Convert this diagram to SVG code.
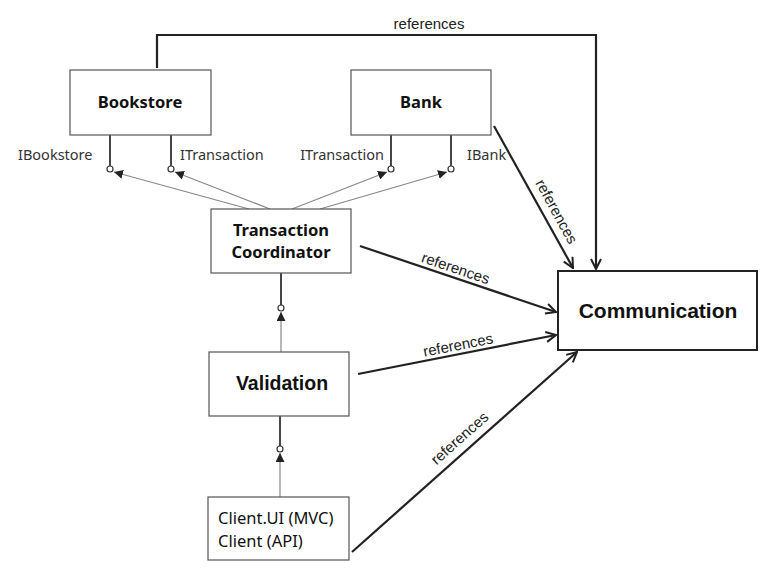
<svg xmlns="http://www.w3.org/2000/svg" width="778" height="588" viewBox="0 0 778 588">
<style>
.box{fill:#fff;stroke:#555;stroke-width:1.2}
.comm{fill:#fff;stroke:#222;stroke-width:2}
.t{font-family:"Noto Sans","Open Sans",sans-serif;fill:#111}
.b{font-weight:bold;font-size:16.5px;text-anchor:middle}
.iface{font-family:"Noto Sans","Open Sans",sans-serif;font-size:14.5px;fill:#333}
.ref{font-family:"Liberation Sans",Arial,sans-serif;font-size:15px;fill:#222;text-anchor:middle}
.dep{stroke:#333;stroke-width:1.8;fill:none}
.use{stroke:#888;stroke-width:1.2;fill:none}
.lol{fill:#fff;stroke:#333;stroke-width:1.2}
.conn{stroke:#222;stroke-width:2.2;fill:none}
</style>
<defs>
<marker id="open" viewBox="0 0 12 12" refX="11" refY="6" markerWidth="12" markerHeight="12" markerUnits="userSpaceOnUse" orient="auto">
<path d="M1,1 L11,6 L1,11" fill="none" stroke="#222" stroke-width="2"/>
</marker>
<marker id="tri" viewBox="0 0 10 10" refX="10" refY="5" markerWidth="9" markerHeight="9" markerUnits="userSpaceOnUse" orient="auto">
<path d="M0,0 L10,5 L0,10 z" fill="#222"/>
</marker>
</defs>
<rect width="778" height="588" fill="#fff"/>

<g id="connectors">
<line class="dep" x1="110" y1="135" x2="110" y2="166"/>
<line class="dep" x1="171" y1="135" x2="171" y2="166"/>
<line class="dep" x1="391" y1="135" x2="391" y2="166"/>
<line class="dep" x1="451" y1="135" x2="451" y2="166"/>
<line class="dep" x1="281" y1="273" x2="281" y2="305"/>
<line class="dep" x1="280" y1="416" x2="280" y2="446"/>
<line class="use" x1="249" y1="209" x2="114" y2="172" marker-end="url(#tri)"/>
<line class="use" x1="270" y1="209" x2="175" y2="172" marker-end="url(#tri)"/>
<line class="use" x1="292" y1="209" x2="387" y2="172" marker-end="url(#tri)"/>
<line class="use" x1="320" y1="209" x2="447" y2="172" marker-end="url(#tri)"/>
<line class="use" x1="281" y1="352" x2="281" y2="312" marker-end="url(#tri)"/>
<line class="use" x1="280" y1="497" x2="280" y2="453" marker-end="url(#tri)"/>
<circle class="lol" cx="110" cy="169" r="3"/>
<circle class="lol" cx="171" cy="169" r="3"/>
<circle class="lol" cx="391" cy="169" r="3"/>
<circle class="lol" cx="451" cy="169" r="3"/>
<circle class="lol" cx="281" cy="308" r="3"/>
<circle class="lol" cx="280" cy="449" r="3"/>
<path class="conn" d="M157,68 L157,35 L596,35 L596,269" marker-end="url(#open)"/>
<line class="conn" x1="494" y1="126" x2="573" y2="268" marker-end="url(#open)"/>
<line class="conn" x1="360" y1="246" x2="556" y2="312" marker-end="url(#open)"/>
<line class="conn" x1="358" y1="374" x2="556" y2="335" marker-end="url(#open)"/>
<line class="conn" x1="352" y1="552" x2="577" y2="352" marker-end="url(#open)"/>
<text class="ref" x="429" y="29">references</text>
<text class="ref" transform="translate(552,214) rotate(61.3)">references</text>
<text class="ref" transform="translate(454,273) rotate(18.7)">references</text>
<text class="ref" transform="translate(459,350) rotate(-11.1)">references</text>
<text class="ref" transform="translate(463,442) rotate(-41.6)">references</text>
<text class="iface" x="18" y="160">IBookstore</text>
<text class="iface" x="180" y="160">ITransaction</text>
<text class="iface" x="384" y="160" text-anchor="end">ITransaction</text>
<text class="iface" x="467" y="160">IBank</text>
</g>

<g id="bookstore">
<rect class="box" x="70" y="70" width="141" height="65"/>
<text class="t b" x="140" y="108">Bookstore</text>
</g>
<g id="bank">
<rect class="box" x="351" y="70" width="140" height="65"/>
<text class="t b" x="421" y="108">Bank</text>
</g>
<g id="transaction-coordinator">
<rect class="box" x="211" y="209" width="140" height="64"/>
<text class="t b" x="281" y="236">Transaction</text>
<text class="t b" x="281" y="258">Coordinator</text>
</g>
<g id="validation">
<rect class="box" x="209" y="352" width="140" height="64"/>
<text class="t" x="282" y="390" text-anchor="middle" style="font-family:'Liberation Sans',Arial,sans-serif;font-weight:bold;font-size:19.5px">Validation</text>
</g>
<g id="client">
<rect class="box" x="208" y="497" width="141" height="63"/>
<text class="t" x="218" y="524" style="font-size:16.5px">Client.UI (MVC)</text>
<text class="t" x="218" y="547" style="font-size:16.5px">Client (API)</text>
</g>
<g id="communication">
<rect class="comm" x="558" y="271" width="199" height="79"/>
<text class="t" x="658" y="318" text-anchor="middle" style="font-family:'Liberation Sans',Arial,sans-serif;font-weight:bold;font-size:21px">Communication</text>
</g>
</svg>
